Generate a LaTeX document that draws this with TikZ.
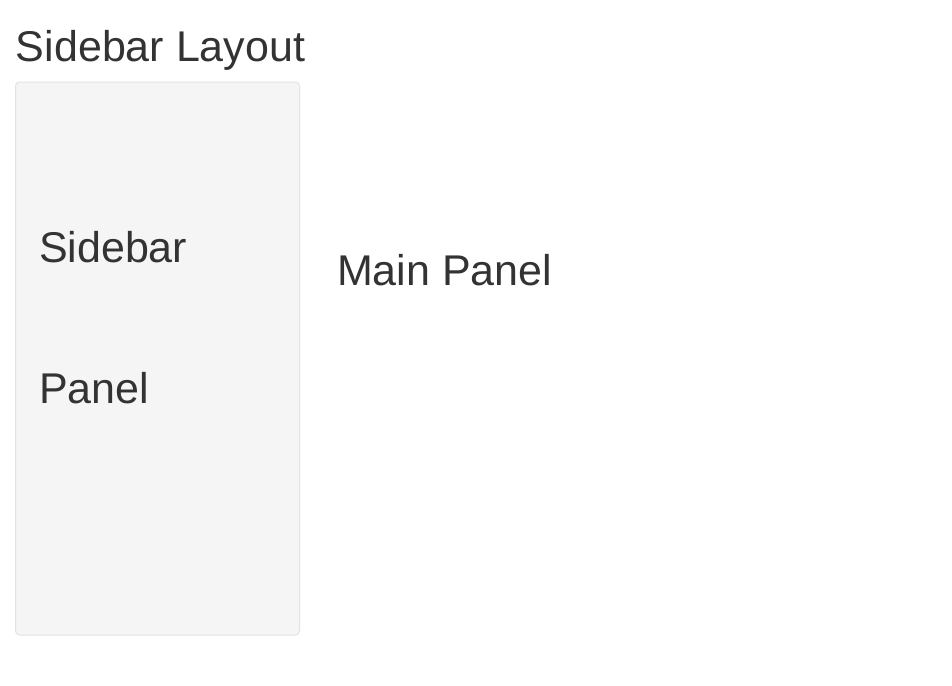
\documentclass[tikz,border=0pt]{standalone}
\usepackage{fontspec}
\setmainfont{Liberation Sans}
\usepackage{tikz}
\usetikzlibrary{positioning}
\definecolor{txt}{HTML}{333333}
\definecolor{wellfill}{HTML}{F5F5F5}
\definecolor{wellline}{HTML}{E3E3E3}
\begin{document}
\begin{tikzpicture}[x=1pt, y=-1pt]
\tikzset{every node/.style={inner sep=0, outer sep=0, text=txt, font=\fontsize{43}{141}\selectfont}, well/.style={draw=wellline, fill=wellfill, line width=1pt, rounded corners=4pt}}
% page size of the screenshot
\useasboundingbox (0,0) rectangle (952,685);

\node[anchor=base west] (T) at (16,61) {Sidebar Layout};
\node[well, anchor=north west, minimum width=284pt, minimum height=553pt] (S) at (15.5,82) {};
% base of a two-line node is its last line
\node[anchor=base west, align=left] (SP) at (39,403) {Sidebar\\Panel};
\node[anchor=base west] (M) at (337,285) {Main Panel};

\end{tikzpicture}
\end{document}
